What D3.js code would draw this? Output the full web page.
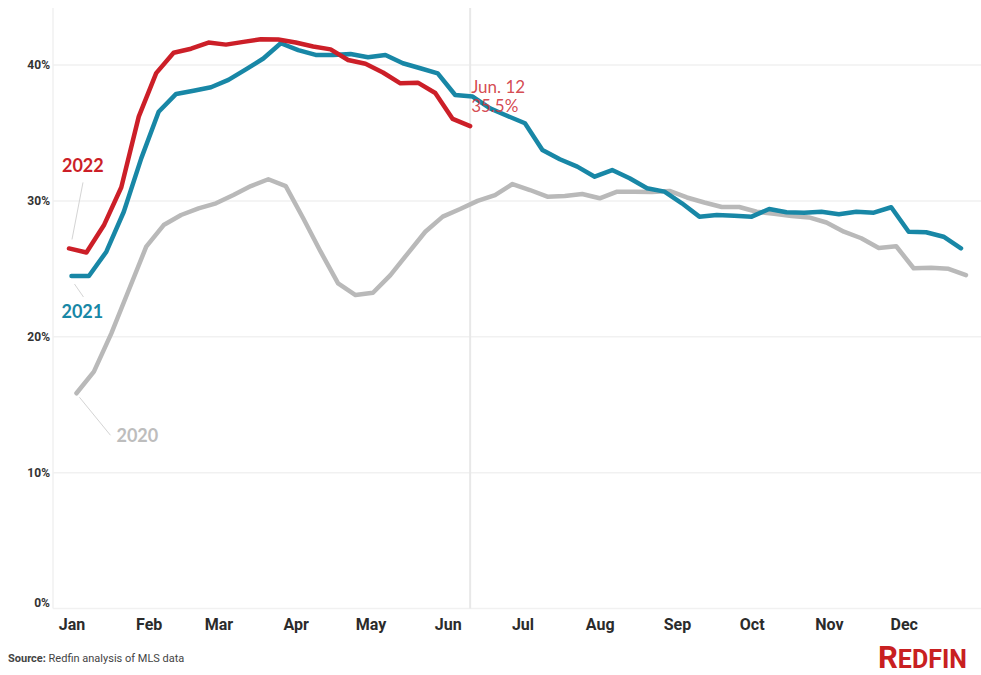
<!DOCTYPE html>
<html>
<head>
<meta charset="utf-8">
<script src="https://cdn.jsdelivr.net/npm/d3@7"></script>
<style>
  html, body { margin: 0; padding: 0; background: #fff; }
  svg { display: block; }
</style>
</head>
<body>
<svg id="chart" width="981" height="675"></svg>
<script>
// Weekly share (%), each series starts at its first week-ending date
const series2022Start = "2022-01-02";
const series2022 = [26.5, 26.2, 28.2, 31.0, 36.2, 39.4, 40.9, 41.2, 41.65, 41.5, 41.7, 41.9,
  41.87, 41.66, 41.36, 41.15, 40.37, 40.09, 39.45, 38.65, 38.7, 37.94, 36.03, 35.5];

const series2021Start = "2021-01-03";
const series2021 = [24.47, 24.47, 26.26, 29.2, 33.13, 36.56, 37.87, 38.11, 38.36, 38.9, 39.68, 40.48,
  41.6, 41.1, 40.74, 40.74, 40.81, 40.57, 40.74, 40.13, 39.76, 39.39, 37.79, 37.68,
  36.81, 36.25, 35.71, 33.75, 33.06, 32.52, 31.78, 32.27, 31.66, 30.93, 30.68, 29.82,
  28.84, 28.96, 28.91, 28.84, 29.4, 29.16, 29.13, 29.2, 29.01, 29.2, 29.13, 29.53,
  27.73, 27.69, 27.36, 26.51];

const series2020Start = "2020-01-05";
const series2020 = [15.84, 17.43, 20.25, 23.44, 26.63, 28.22, 28.96, 29.45, 29.82, 30.43, 31.09, 31.59,
  31.09, 28.72, 26.26, 23.93, 23.07, 23.24, 24.54, 26.14, 27.73, 28.84, 29.4, 30.0,
  30.43, 31.24, 30.8, 30.31, 30.36, 30.51, 30.19, 30.68, 30.68, 30.65, 30.73, 30.25,
  29.88, 29.55, 29.55, 29.2, 29.05, 28.89, 28.78, 28.41, 27.73, 27.25, 26.53, 26.66,
  25.04, 25.07, 25.0, 24.54];

const monthLabels = ["Jan", "Feb", "Mar", "Apr", "May", "Jun", "Jul", "Aug", "Sep", "Oct", "Nov", "Dec"];
const yTicks = [0, 10, 20, 30, 40];
const markerDate = "2022-06-12";
const markerLabel = ["Jun. 12", "35.5%"];
const sourceLabel = "Source:";
const sourceText = " Redfin analysis of MLS data";

const svg = d3.select("#chart");
const W = 981;
const plotLeft = 53, plotTop = 8, plotBottom = 608.5;
const axisFont = "Roboto, 'Noto Sans', sans-serif";

// All years are laid onto one calendar year by day of year
const refStart = new Date(2021, 0, 1);
const x = d3.scaleTime()
  .domain([refStart, new Date(2022, 0, 1)])
  .range([66.5, 66.5 + 2.4916 * 365]);
const y = d3.scaleLinear().domain([0, 40]).range([plotBottom, 65]);

const parse = d3.timeParse("%Y-%m-%d");
function toRef(date) {
  const doy = d3.timeDay.count(d3.timeYear(date), date);
  return d3.timeDay.offset(refStart, doy);
}
function build(startStr, values) {
  const start = parse(startStr);
  return values.map((v, i) => ({ date: toRef(d3.timeDay.offset(start, 7 * i)), value: v }));
}

// Grid
svg.append("g")
  .selectAll("line")
  .data(yTicks)
  .join("line")
  .attr("x1", plotLeft).attr("x2", W)
  .attr("y1", d => y(d)).attr("y2", d => y(d))
  .attr("stroke", "#f1f1f1").attr("stroke-width", 1.5);

svg.append("line")
  .attr("x1", plotLeft).attr("x2", plotLeft)
  .attr("y1", plotTop).attr("y2", plotBottom)
  .attr("stroke", "#f1f1f1").attr("stroke-width", 1.5);

// Y axis
const yAxis = svg.append("g")
  .attr("transform", `translate(${plotLeft - 3},0)`)
  .call(d3.axisLeft(y).tickValues(yTicks).tickFormat(d => d + "%").tickSize(0).tickPadding(0));
yAxis.select(".domain").remove();
yAxis.selectAll("text")
  .attr("font-family", axisFont)
  .attr("font-weight", "bold")
  .attr("font-size", 12)
  .attr("fill", "#333")
  .attr("dy", d => d === 0 ? "-0.2em" : "0.32em");

// X axis (month labels)
const months = d3.range(12).map(m => new Date(2021, m, 1));
const xAxis = svg.append("g")
  .attr("transform", `translate(0,${plotBottom})`)
  .call(d3.axisBottom(x).tickValues(months).tickFormat((d, i) => monthLabels[i]).tickSize(0).tickPadding(0));
xAxis.select(".domain").remove();
xAxis.selectAll("text")
  .attr("font-family", axisFont)
  .attr("font-weight", "bold")
  .attr("font-size", 16)
  .attr("fill", "#2b2b2b")
  .attr("dx", 5)
  .attr("y", 10);

// Reference line for the latest week
const markerX = x(toRef(parse(markerDate)));
svg.append("line")
  .attr("x1", markerX).attr("x2", markerX)
  .attr("y1", plotTop).attr("y2", plotBottom)
  .attr("stroke", "#e8e8e8").attr("stroke-width", 2);

// Lines
const line = d3.line().x(d => x(d.date)).y(d => y(d.value)).curve(d3.curveLinear);
const data2020 = build(series2020Start, series2020);
const data2021 = build(series2021Start, series2021);
const data2022 = build(series2022Start, series2022);

const lines = [
  { data: data2020, color: "#b9b9b9" },
  { data: data2021, color: "#1887a6" },
  { data: data2022, color: "#cc1f28" }
];
svg.append("g")
  .selectAll("path")
  .data(lines)
  .join("path")
  .attr("d", d => line(d.data))
  .attr("fill", "none")
  .attr("stroke", d => d.color)
  .attr("stroke-width", 4.5)
  .attr("stroke-linejoin", "round")
  .attr("stroke-linecap", "round");

// Series labels with leader lines
const labelFont = "Lato, 'Open Sans', sans-serif";
const seriesLabels = [
  { text: "2022", color: "#cc1f28", p: data2022[0], tx: -7, ty: -76, l1: [3, -9], l2: [14, -66] },
  { text: "2021", color: "#1887a6", p: data2021[0], tx: -10, ty: 42, l1: [3, 8], l2: [12, 21] },
  { text: "2020", color: "#bdbdbd", p: data2020[0], tx: 40, ty: 49, l1: [3, 4], l2: [34, 42] }
];
const lab = svg.append("g");
seriesLabels.forEach(s => {
  const px = x(s.p.date), py = y(s.p.value);
  lab.append("line")
    .attr("x1", px + s.l1[0]).attr("y1", py + s.l1[1])
    .attr("x2", px + s.l2[0]).attr("y2", py + s.l2[1])
    .attr("stroke", "#d4d4d4").attr("stroke-width", 1);
  lab.append("text")
    .attr("x", px + s.tx).attr("y", py + s.ty)
    .attr("font-family", labelFont)
    .attr("font-weight", "bold")
    .attr("font-size", 18)
    .attr("fill", s.color)
    .text(s.text);
});

// Latest value annotation
const last = data2022[data2022.length - 1];
const ann = svg.append("text")
  .attr("font-family", labelFont)
  .attr("font-size", 17)
  .attr("fill", "#d0353d")
  .attr("fill-opacity", 0.9);
markerLabel.forEach((t, i) => {
  ann.append("tspan")
    .attr("x", markerX + 1)
    .attr("y", y(last.value) - 33 + i * 19)
    .text(t);
});

// Source note
const src = svg.append("text")
  .attr("x", 8).attr("y", 662)
  .attr("font-family", axisFont)
  .attr("font-size", 11)
  .attr("fill", "#444");
src.append("tspan").attr("font-weight", "bold").text(sourceLabel);
src.append("tspan").text(sourceText);

// Logo wordmark
const logo = svg.append("text")
  .attr("x", 878).attr("y", 668)
  .attr("font-family", axisFont)
  .attr("font-weight", "bold")
  .attr("fill", "#c82021");
logo.append("tspan").attr("font-size", 31).text("R");
logo.append("tspan").attr("font-size", 25).text("EDFIN");
</script>
</body>
</html>
